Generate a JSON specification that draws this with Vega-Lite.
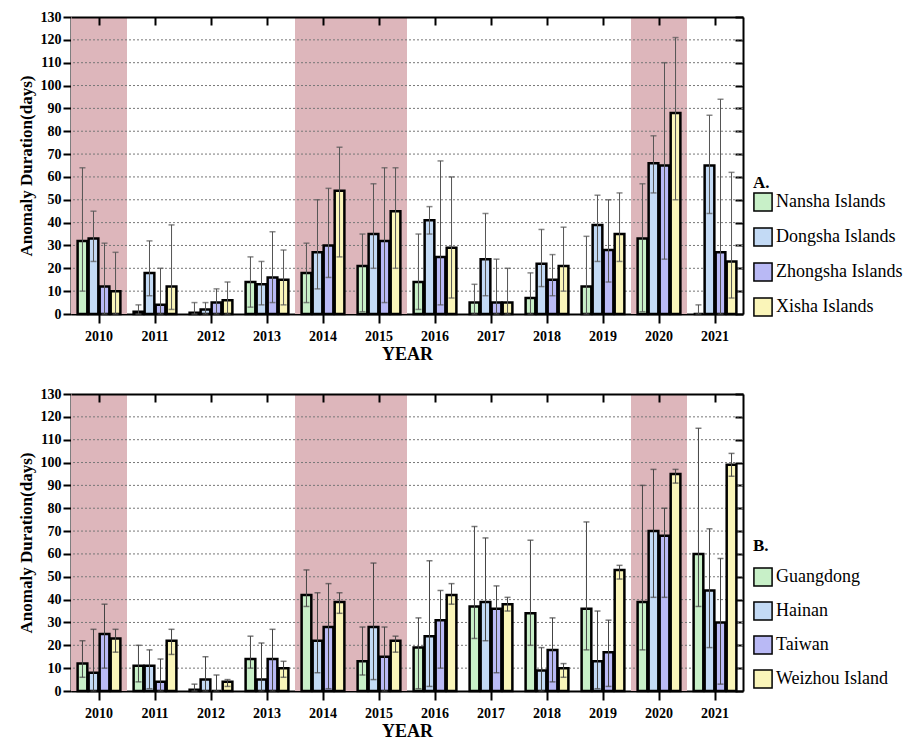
{
  "$schema": "https://vega.github.io/schema/vega-lite/v6.json",
  "padding": {"left": 17, "top": 10, "right": 5, "bottom": 0},
  "background": "white",
  "spacing": 24,
  "config": {
    "font": "Liberation Serif",
    "view": {"stroke": null},
    "axis": {
      "labelFont": "Liberation Serif", "labelFontWeight": "bold", "labelFontSize": 14, "labelColor": "black",
      "titleFont": "Liberation Serif", "titleFontWeight": "bold", "titleColor": "black",
      "tickColor": "black", "tickWidth": 2, "domainColor": "black", "domainWidth": 2, "grid": false
    },
    "legend": {
      "labelFont": "Liberation Serif", "labelFontSize": 18, "labelColor": "black",
      "titleFont": "Liberation Serif", "titleFontSize": 17, "titleFontWeight": "bold", "titleColor": "black",
      "symbolType": "square", "symbolSize": 330, "symbolStrokeColor": "black", "symbolStrokeWidth": 1.5,
      "rowPadding": 9, "titlePadding": 0, "labelOffset": 3, "symbolOpacity": 1
    }
  },
  "datasets": {
    "shade": [
      {"year": "2010", "lo": 0, "hi": 130},
      {"year": "2014", "lo": 0, "hi": 130},
      {"year": "2015", "lo": 0, "hi": 130},
      {"year": "2020", "lo": 0, "hi": 130}
    ],
    "grid": [
      {"g": 10}, {"g": 20}, {"g": 30}, {"g": 40}, {"g": 50}, {"g": 60},
      {"g": 70}, {"g": 80}, {"g": 90}, {"g": 100}, {"g": 110}, {"g": 120}
    ],
    "A": [
      {"year": "2010", "site": "Nansha Islands", "v": 32, "lo": 10, "hi": 64},
      {"year": "2010", "site": "Dongsha Islands", "v": 33, "lo": 23, "hi": 45},
      {"year": "2010", "site": "Zhongsha Islands", "v": 12, "lo": 0, "hi": 31},
      {"year": "2010", "site": "Xisha Islands", "v": 10, "lo": 0, "hi": 27},
      {"year": "2011", "site": "Nansha Islands", "v": 1, "lo": 0, "hi": 4},
      {"year": "2011", "site": "Dongsha Islands", "v": 18, "lo": 8, "hi": 32},
      {"year": "2011", "site": "Zhongsha Islands", "v": 4, "lo": 0, "hi": 20},
      {"year": "2011", "site": "Xisha Islands", "v": 12, "lo": 2, "hi": 39},
      {"year": "2012", "site": "Nansha Islands", "v": 0.5, "lo": 0, "hi": 5},
      {"year": "2012", "site": "Dongsha Islands", "v": 2, "lo": 0, "hi": 5},
      {"year": "2012", "site": "Zhongsha Islands", "v": 5, "lo": 0, "hi": 11},
      {"year": "2012", "site": "Xisha Islands", "v": 6, "lo": 0, "hi": 14},
      {"year": "2013", "site": "Nansha Islands", "v": 14, "lo": 3, "hi": 25},
      {"year": "2013", "site": "Dongsha Islands", "v": 13, "lo": 4, "hi": 23},
      {"year": "2013", "site": "Zhongsha Islands", "v": 16, "lo": 5, "hi": 36},
      {"year": "2013", "site": "Xisha Islands", "v": 15, "lo": 4, "hi": 28},
      {"year": "2014", "site": "Nansha Islands", "v": 18, "lo": 5, "hi": 31},
      {"year": "2014", "site": "Dongsha Islands", "v": 27, "lo": 11, "hi": 50},
      {"year": "2014", "site": "Zhongsha Islands", "v": 30, "lo": 16, "hi": 55},
      {"year": "2014", "site": "Xisha Islands", "v": 54, "lo": 25, "hi": 73},
      {"year": "2015", "site": "Nansha Islands", "v": 21, "lo": 1, "hi": 35},
      {"year": "2015", "site": "Dongsha Islands", "v": 35, "lo": 20, "hi": 57},
      {"year": "2015", "site": "Zhongsha Islands", "v": 32, "lo": 5, "hi": 64},
      {"year": "2015", "site": "Xisha Islands", "v": 45, "lo": 20, "hi": 64},
      {"year": "2016", "site": "Nansha Islands", "v": 14, "lo": 2, "hi": 35},
      {"year": "2016", "site": "Dongsha Islands", "v": 41, "lo": 35, "hi": 47},
      {"year": "2016", "site": "Zhongsha Islands", "v": 25, "lo": 4, "hi": 67},
      {"year": "2016", "site": "Xisha Islands", "v": 29, "lo": 7, "hi": 60},
      {"year": "2017", "site": "Nansha Islands", "v": 5, "lo": 0, "hi": 13},
      {"year": "2017", "site": "Dongsha Islands", "v": 24, "lo": 8, "hi": 44},
      {"year": "2017", "site": "Zhongsha Islands", "v": 5, "lo": 0, "hi": 24},
      {"year": "2017", "site": "Xisha Islands", "v": 5, "lo": 0, "hi": 20},
      {"year": "2018", "site": "Nansha Islands", "v": 7, "lo": 0, "hi": 18},
      {"year": "2018", "site": "Dongsha Islands", "v": 22, "lo": 12, "hi": 37},
      {"year": "2018", "site": "Zhongsha Islands", "v": 15, "lo": 8, "hi": 26},
      {"year": "2018", "site": "Xisha Islands", "v": 21, "lo": 10, "hi": 38},
      {"year": "2019", "site": "Nansha Islands", "v": 12, "lo": 0, "hi": 34},
      {"year": "2019", "site": "Dongsha Islands", "v": 39, "lo": 23, "hi": 52},
      {"year": "2019", "site": "Zhongsha Islands", "v": 28, "lo": 14, "hi": 50},
      {"year": "2019", "site": "Xisha Islands", "v": 35, "lo": 23, "hi": 53},
      {"year": "2020", "site": "Nansha Islands", "v": 33, "lo": 1, "hi": 57},
      {"year": "2020", "site": "Dongsha Islands", "v": 66, "lo": 53, "hi": 78},
      {"year": "2020", "site": "Zhongsha Islands", "v": 65, "lo": 24, "hi": 110},
      {"year": "2020", "site": "Xisha Islands", "v": 88, "lo": 50, "hi": 121},
      {"year": "2021", "site": "Nansha Islands", "v": 0, "lo": 0, "hi": 4},
      {"year": "2021", "site": "Dongsha Islands", "v": 65, "lo": 44, "hi": 87},
      {"year": "2021", "site": "Zhongsha Islands", "v": 27, "lo": 0, "hi": 94},
      {"year": "2021", "site": "Xisha Islands", "v": 23, "lo": 7, "hi": 62}
    ],
    "B": [
      {"year": "2010", "site": "Guangdong", "v": 12, "lo": 6, "hi": 22},
      {"year": "2010", "site": "Hainan", "v": 8, "lo": 0, "hi": 27},
      {"year": "2010", "site": "Taiwan", "v": 25, "lo": 10, "hi": 38},
      {"year": "2010", "site": "Weizhou Island", "v": 23, "lo": 17, "hi": 27},
      {"year": "2011", "site": "Guangdong", "v": 11, "lo": 4, "hi": 20},
      {"year": "2011", "site": "Hainan", "v": 11, "lo": 1, "hi": 18},
      {"year": "2011", "site": "Taiwan", "v": 4, "lo": 0, "hi": 14},
      {"year": "2011", "site": "Weizhou Island", "v": 22, "lo": 16, "hi": 27},
      {"year": "2012", "site": "Guangdong", "v": 0.5, "lo": 0, "hi": 3},
      {"year": "2012", "site": "Hainan", "v": 5, "lo": 0, "hi": 15},
      {"year": "2012", "site": "Taiwan", "v": 0, "lo": 0, "hi": 7},
      {"year": "2012", "site": "Weizhou Island", "v": 4, "lo": 2, "hi": 5},
      {"year": "2013", "site": "Guangdong", "v": 14, "lo": 10, "hi": 24},
      {"year": "2013", "site": "Hainan", "v": 5, "lo": 0, "hi": 21},
      {"year": "2013", "site": "Taiwan", "v": 14, "lo": 0, "hi": 27},
      {"year": "2013", "site": "Weizhou Island", "v": 10, "lo": 6, "hi": 13},
      {"year": "2014", "site": "Guangdong", "v": 42, "lo": 37, "hi": 53},
      {"year": "2014", "site": "Hainan", "v": 22, "lo": 8, "hi": 43},
      {"year": "2014", "site": "Taiwan", "v": 28, "lo": 1, "hi": 47},
      {"year": "2014", "site": "Weizhou Island", "v": 39, "lo": 34, "hi": 43},
      {"year": "2015", "site": "Guangdong", "v": 13, "lo": 7, "hi": 28},
      {"year": "2015", "site": "Hainan", "v": 28, "lo": 5, "hi": 56},
      {"year": "2015", "site": "Taiwan", "v": 15, "lo": 0, "hi": 28},
      {"year": "2015", "site": "Weizhou Island", "v": 22, "lo": 17, "hi": 24},
      {"year": "2016", "site": "Guangdong", "v": 19, "lo": 1, "hi": 32},
      {"year": "2016", "site": "Hainan", "v": 24, "lo": 2, "hi": 57},
      {"year": "2016", "site": "Taiwan", "v": 31, "lo": 10, "hi": 44},
      {"year": "2016", "site": "Weizhou Island", "v": 42, "lo": 38, "hi": 47},
      {"year": "2017", "site": "Guangdong", "v": 37, "lo": 23, "hi": 72},
      {"year": "2017", "site": "Hainan", "v": 39, "lo": 22, "hi": 67},
      {"year": "2017", "site": "Taiwan", "v": 36, "lo": 8, "hi": 46},
      {"year": "2017", "site": "Weizhou Island", "v": 38, "lo": 35, "hi": 41},
      {"year": "2018", "site": "Guangdong", "v": 34, "lo": 20, "hi": 66},
      {"year": "2018", "site": "Hainan", "v": 9, "lo": 0, "hi": 19},
      {"year": "2018", "site": "Taiwan", "v": 18, "lo": 4, "hi": 32},
      {"year": "2018", "site": "Weizhou Island", "v": 10, "lo": 6, "hi": 12},
      {"year": "2019", "site": "Guangdong", "v": 36, "lo": 18, "hi": 74},
      {"year": "2019", "site": "Hainan", "v": 13, "lo": 1, "hi": 35},
      {"year": "2019", "site": "Taiwan", "v": 17, "lo": 2, "hi": 31},
      {"year": "2019", "site": "Weizhou Island", "v": 53, "lo": 49, "hi": 55},
      {"year": "2020", "site": "Guangdong", "v": 39, "lo": 18, "hi": 90},
      {"year": "2020", "site": "Hainan", "v": 70, "lo": 41, "hi": 97},
      {"year": "2020", "site": "Taiwan", "v": 68, "lo": 41, "hi": 80},
      {"year": "2020", "site": "Weizhou Island", "v": 95, "lo": 91, "hi": 97},
      {"year": "2021", "site": "Guangdong", "v": 60, "lo": 37, "hi": 115},
      {"year": "2021", "site": "Hainan", "v": 44, "lo": 19, "hi": 71},
      {"year": "2021", "site": "Taiwan", "v": 30, "lo": 3, "hi": 58},
      {"year": "2021", "site": "Weizhou Island", "v": 99, "lo": 94, "hi": 104}
    ]
  },
  "vconcat": [
    {
      "width": 672, "height": 297,
      "layer": [
        {
          "data": {"name": "shade"},
          "mark": {"type": "rect", "fill": "#ddb6bb"},
          "encoding": {
            "x": {"field": "year", "type": "nominal", "scale": {"type": "band", "domain": ["2010","2011","2012","2013","2014","2015","2016","2017","2018","2019","2020","2021"], "paddingInner": 0, "paddingOuter": 0},
                  "axis": {"orient": "top", "labels": false, "title": null, "tickSize": -8}},
            "y": {"field": "lo", "type": "quantitative", "scale": {"domain": [0, 130], "nice": false},
                  "axis": {"orient": "right", "labels": false, "title": null, "tickSize": -8, "values": [0,10,20,30,40,50,60,70,80,90,100,110,120,130]}},
            "y2": {"field": "hi"}
          }
        },
        {
          "data": {"name": "grid"},
          "mark": {"type": "rule", "stroke": "#777777", "strokeWidth": 1, "strokeDash": [2, 2]},
          "encoding": {"y": {"field": "g", "type": "quantitative", "axis": null}}
        },
        {
          "data": {"name": "A"},
          "mark": {"type": "bar", "stroke": "black", "strokeWidth": 2.5},
          "encoding": {
            "x": {"field": "year", "type": "nominal", "axis": {"orient": "bottom", "title": "YEAR", "titleFontSize": 18, "labelAngle": 0, "tickSize": 9, "labelPadding": 6, "titlePadding": 2}},
            "xOffset": {"field": "site", "type": "nominal", "sort": ["Nansha Islands","Dongsha Islands","Zhongsha Islands","Xisha Islands"], "scale": {"paddingInner": 0.12, "paddingOuter": 0.6}},
            "y": {"field": "v", "type": "quantitative", "axis": {"orient": "left", "title": "Anomaly Duration(days)", "titleFontSize": 17, "tickSize": 8, "labelPadding": 2, "titlePadding": 5, "values": [0,10,20,30,40,50,60,70,80,90,100,110,120,130]}},
            "color": {"field": "site", "type": "nominal",
                      "scale": {"domain": ["Nansha Islands","Dongsha Islands","Zhongsha Islands","Xisha Islands"], "range": ["#c8f0c8","#c3daf5","#b9b9f5","#faf5b9"]},
                      "legend": {"title": "A.", "orient": "none", "legendX": 682, "legendY": 158, "labelFont": "Liberation Serif", "titleFont": "Liberation Serif"}}
          }
        },
        {
          "data": {"name": "A"},
          "mark": {"type": "rule", "stroke": "#555555", "strokeWidth": 1},
          "encoding": {
            "x": {"field": "year", "type": "nominal", "axis": null},
            "xOffset": {"field": "site", "type": "nominal", "sort": ["Nansha Islands","Dongsha Islands","Zhongsha Islands","Xisha Islands"]},
            "y": {"field": "lo", "type": "quantitative", "axis": null},
            "y2": {"field": "hi"}
          }
        },
        {
          "data": {"name": "A"},
          "mark": {"type": "tick", "color": "#555555", "size": 6, "thickness": 1.5},
          "encoding": {
            "x": {"field": "year", "type": "nominal", "axis": null},
            "xOffset": {"field": "site", "type": "nominal", "sort": ["Nansha Islands","Dongsha Islands","Zhongsha Islands","Xisha Islands"]},
            "y": {"field": "hi", "type": "quantitative", "axis": null}
          }
        },
        {
          "data": {"name": "A"},
          "mark": {"type": "tick", "color": "#555555", "size": 6, "thickness": 1.5},
          "encoding": {
            "x": {"field": "year", "type": "nominal", "axis": null},
            "xOffset": {"field": "site", "type": "nominal", "sort": ["Nansha Islands","Dongsha Islands","Zhongsha Islands","Xisha Islands"]},
            "y": {"field": "lo", "type": "quantitative", "axis": null}
          }
        }
      ],
      "resolve": {"axis": {"x": "independent", "y": "independent"}}
    },
    {
      "width": 672, "height": 297,
      "layer": [
        {
          "data": {"name": "shade"},
          "mark": {"type": "rect", "fill": "#ddb6bb"},
          "encoding": {
            "x": {"field": "year", "type": "nominal", "scale": {"type": "band", "domain": ["2010","2011","2012","2013","2014","2015","2016","2017","2018","2019","2020","2021"], "paddingInner": 0, "paddingOuter": 0},
                  "axis": {"orient": "top", "labels": false, "title": null, "tickSize": -8}},
            "y": {"field": "lo", "type": "quantitative", "scale": {"domain": [0, 130], "nice": false},
                  "axis": {"orient": "right", "labels": false, "title": null, "tickSize": -8, "values": [0,10,20,30,40,50,60,70,80,90,100,110,120,130]}},
            "y2": {"field": "hi"}
          }
        },
        {
          "data": {"name": "grid"},
          "mark": {"type": "rule", "stroke": "#777777", "strokeWidth": 1, "strokeDash": [2, 2]},
          "encoding": {"y": {"field": "g", "type": "quantitative", "axis": null}}
        },
        {
          "data": {"name": "B"},
          "mark": {"type": "bar", "stroke": "black", "strokeWidth": 2.5},
          "encoding": {
            "x": {"field": "year", "type": "nominal", "axis": {"orient": "bottom", "title": "YEAR", "titleFontSize": 18, "labelAngle": 0, "tickSize": 9, "labelPadding": 6, "titlePadding": 2}},
            "xOffset": {"field": "site", "type": "nominal", "sort": ["Guangdong","Hainan","Taiwan","Weizhou Island"], "scale": {"paddingInner": 0.12, "paddingOuter": 0.6}},
            "y": {"field": "v", "type": "quantitative", "axis": {"orient": "left", "title": "Anomaly Duration(days)", "titleFontSize": 17, "tickSize": 8, "labelPadding": 2, "titlePadding": 5, "values": [0,10,20,30,40,50,60,70,80,90,100,110,120,130]}},
            "color": {"field": "site", "type": "nominal",
                      "scale": {"domain": ["Guangdong","Hainan","Taiwan","Weizhou Island"], "range": ["#c8f0c8","#c3daf5","#b9b9f5","#faf5b9"]},
                      "legend": {"title": "B.", "orient": "none", "legendX": 682, "legendY": 144, "titlePadding": 12, "rowPadding": 8, "labelFont": "Liberation Serif", "titleFont": "Liberation Serif"}}
          }
        },
        {
          "data": {"name": "B"},
          "mark": {"type": "rule", "stroke": "#444444", "strokeWidth": 1},
          "encoding": {
            "x": {"field": "year", "type": "nominal", "axis": null},
            "xOffset": {"field": "site", "type": "nominal", "sort": ["Guangdong","Hainan","Taiwan","Weizhou Island"]},
            "y": {"field": "lo", "type": "quantitative", "axis": null},
            "y2": {"field": "hi"}
          }
        },
        {
          "data": {"name": "B"},
          "mark": {"type": "tick", "color": "#444444", "size": 6, "thickness": 1.5},
          "encoding": {
            "x": {"field": "year", "type": "nominal", "axis": null},
            "xOffset": {"field": "site", "type": "nominal", "sort": ["Guangdong","Hainan","Taiwan","Weizhou Island"]},
            "y": {"field": "hi", "type": "quantitative", "axis": null}
          }
        },
        {
          "data": {"name": "B"},
          "mark": {"type": "tick", "color": "#444444", "size": 6, "thickness": 1.5},
          "encoding": {
            "x": {"field": "year", "type": "nominal", "axis": null},
            "xOffset": {"field": "site", "type": "nominal", "sort": ["Guangdong","Hainan","Taiwan","Weizhou Island"]},
            "y": {"field": "lo", "type": "quantitative", "axis": null}
          }
        }
      ],
      "resolve": {"axis": {"x": "independent", "y": "independent"}}
    }
  ],
  "resolve": {"scale": {"color": "independent", "x": "independent", "y": "independent", "xOffset": "independent"}, "legend": {"color": "independent"}}
}
